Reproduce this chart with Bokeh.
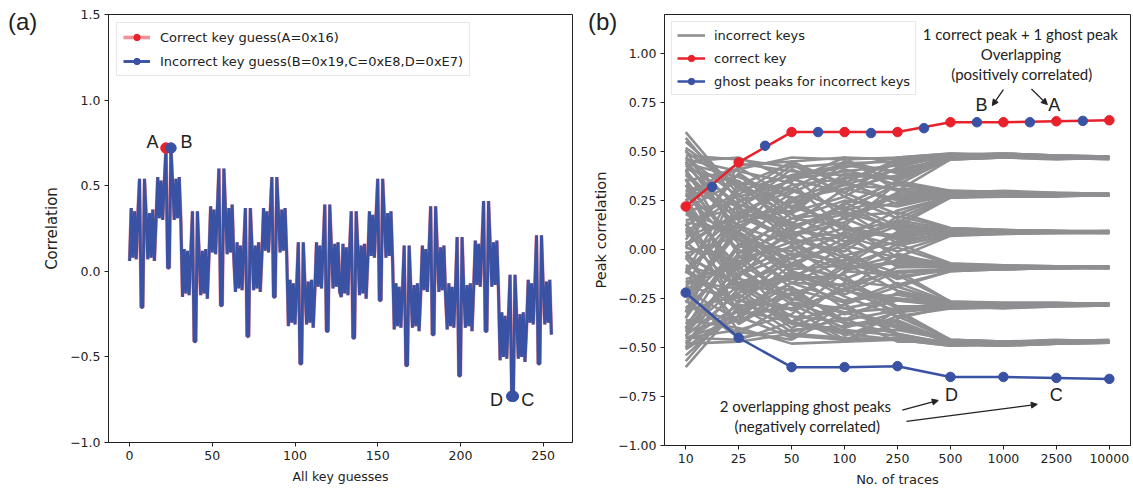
from bokeh.plotting import figure
from bokeh.models import FixedTicker, Legend, LegendItem, Label, Arrow, NormalHead, GridBox, Div
from bokeh.embed import file_html
from bokeh.resources import INLINE

# ---------------- panel (a) data ----------------
key_guesses = list(range(256))
correlation = [
    0.06, 0.37, 0.08, 0.35, 0.07, 0.33, 0.54, -0.21, -0.21, 0.54, 0.33, 0.07, 0.34, 0.08, 0.36, 0.06,
    0.30, 0.55, 0.31, 0.53, 0.30, 0.52, 0.72, 0.02, 0.02, 0.72, 0.52, 0.30, 0.54, 0.31, 0.55, 0.29,
    -0.15, 0.13, -0.13, 0.12, -0.14, 0.11, 0.35, -0.41, -0.41, 0.35, 0.11, -0.14, 0.12, -0.13, 0.13, -0.16,
    0.09, 0.38, 0.11, 0.36, 0.10, 0.35, 0.60, -0.20, -0.20, 0.60, 0.35, 0.10, 0.37, 0.11, 0.39, 0.08,
    -0.12, 0.17, -0.10, 0.15, -0.11, 0.14, 0.37, -0.38, -0.38, 0.37, 0.14, -0.11, 0.15, -0.10, 0.17, -0.12,
    0.10, 0.37, 0.12, 0.35, 0.11, 0.34, 0.55, -0.15, -0.15, 0.55, 0.34, 0.11, 0.36, 0.12, 0.37, 0.09,
    -0.32, -0.05, -0.30, -0.07, -0.31, -0.08, 0.17, -0.54, -0.54, 0.17, -0.08, -0.31, -0.06, -0.30, -0.05, -0.33,
    -0.11, 0.17, -0.09, 0.15, -0.10, 0.14, 0.39, -0.35, -0.35, 0.39, 0.14, -0.10, 0.16, -0.09, 0.17, -0.12,
    -0.15, 0.16, -0.13, 0.14, -0.14, 0.13, 0.35, -0.39, -0.39, 0.35, 0.13, -0.14, 0.15, -0.13, 0.16, -0.16,
    0.07, 0.35, 0.09, 0.33, 0.08, 0.32, 0.54, -0.17, -0.17, 0.54, 0.32, 0.08, 0.34, 0.09, 0.35, 0.06,
    -0.34, -0.07, -0.32, -0.09, -0.33, -0.10, 0.15, -0.55, -0.55, 0.15, -0.10, -0.33, -0.08, -0.32, -0.07, -0.35,
    -0.13, 0.15, -0.11, 0.13, -0.12, 0.12, 0.38, -0.37, -0.37, 0.38, 0.12, -0.12, 0.14, -0.11, 0.15, -0.14,
    -0.34, -0.07, -0.32, -0.09, -0.33, -0.10, 0.20, -0.61, -0.61, 0.20, -0.10, -0.33, -0.08, -0.32, -0.07, -0.35,
    -0.10, 0.18, -0.08, 0.16, -0.09, 0.15, 0.41, -0.35, -0.35, 0.41, 0.15, -0.09, 0.17, -0.08, 0.18, -0.11,
    -0.52, -0.24, -0.50, -0.26, -0.51, -0.27, -0.02, -0.73, -0.73, -0.02, -0.27, -0.51, -0.25, -0.50, -0.24, -0.53,
    -0.32, -0.05, -0.30, -0.07, -0.31, -0.08, 0.21, -0.54, -0.54, 0.21, -0.08, -0.31, -0.06, -0.30, -0.05, -0.37,
]
correct_key = 0x16
ghost_keys = [0x19, 0xE7, 0xE8]
a_yticks = [-1.0, -0.5, 0.0, 0.5, 1.0, 1.5]
a_yticklabels = ["\u22121.0", "\u22120.5", "0.0", "0.5", "1.0", "1.5"]
a_xticks = [0, 50, 100, 150, 200, 250]

# ---------------- panel (b) data ----------------
trace_labels = ["10", "25", "50", "100", "250", "500", "1000", "2500", "10000"]
correct_peak = [0.22, 0.445, 0.60, 0.60, 0.60, 0.65, 0.65, 0.655, 0.66]
ghost_pos_peak = [0.32, 0.53, 0.60, 0.595, 0.62, 0.65, 0.65, 0.657]
ghost_neg_peak = [-0.22, -0.45, -0.60, -0.60, -0.595, -0.65, -0.65, -0.655, -0.66]
incorrect_peaks = [
    [0.60, 0.28, 0.45, 0.47, 0.46, 0.48, 0.49, 0.48, 0.475],
    [0.48, 0.46, 0.42, 0.44, 0.45, 0.47, 0.48, 0.47, 0.47],
    [0.35, 0.41, 0.47, 0.46, 0.47, 0.49, 0.48, 0.47, 0.465],
    [0.12, 0.30, 0.38, 0.43, 0.40, 0.46, 0.47, 0.46, 0.47],
    [-0.05, 0.18, 0.33, 0.36, 0.44, 0.48, 0.475, 0.465, 0.47],
    [0.44, 0.37, 0.26, 0.31, 0.38, 0.465, 0.47, 0.47, 0.46],
    [0.27, 0.44, 0.40, 0.38, 0.36, 0.475, 0.485, 0.475, 0.47],
    [-0.22, 0.10, 0.29, 0.41, 0.33, 0.47, 0.48, 0.47, 0.475],
    [0.52, 0.33, 0.44, 0.27, 0.42, 0.485, 0.49, 0.48, 0.475],
    [0.05, 0.39, 0.21, 0.45, 0.35, 0.46, 0.47, 0.465, 0.465],
    [0.45, 0.47, 0.36, 0.40, 0.43, 0.475, 0.48, 0.47, 0.47],
    [0.20, 0.24, 0.43, 0.34, 0.46, 0.47, 0.475, 0.47, 0.47],
    [-0.12, 0.34, 0.31, 0.45, 0.39, 0.48, 0.485, 0.475, 0.47],
    [0.39, 0.15, 0.37, 0.42, 0.47, 0.49, 0.485, 0.48, 0.475],
    [0.01, 0.43, 0.45, 0.33, 0.41, 0.465, 0.475, 0.47, 0.47],
    [0.30, 0.38, 0.18, 0.39, 0.37, 0.47, 0.48, 0.47, 0.465],
    [-0.32, 0.21, 0.41, 0.29, 0.45, 0.48, 0.49, 0.48, 0.47],
    [0.47, 0.27, 0.35, 0.47, 0.30, 0.46, 0.47, 0.465, 0.465],
    [0.57, 0.25, 0.31, 0.20, 0.27, 0.29, 0.28, 0.28, 0.28],
    [0.41, 0.35, 0.16, 0.25, 0.22, 0.28, 0.29, 0.285, 0.28],
    [0.18, 0.05, 0.24, 0.33, 0.31, 0.30, 0.295, 0.285, 0.285],
    [-0.30, -0.04, 0.12, 0.18, 0.24, 0.27, 0.28, 0.275, 0.275],
    [0.30, 0.22, 0.36, 0.29, 0.18, 0.275, 0.285, 0.28, 0.28],
    [0.09, 0.28, 0.07, 0.14, 0.28, 0.29, 0.30, 0.29, 0.285],
    [-0.12, 0.14, 0.20, 0.37, 0.30, 0.285, 0.275, 0.275, 0.275],
    [0.46, 0.40, 0.34, 0.10, 0.14, 0.265, 0.27, 0.27, 0.28],
    [0.23, -0.10, 0.10, 0.23, 0.35, 0.30, 0.29, 0.28, 0.28],
    [-0.40, 0.02, 0.27, 0.06, 0.20, 0.27, 0.28, 0.28, 0.275],
    [0.50, 0.32, 0.22, 0.34, 0.25, 0.28, 0.285, 0.28, 0.28],
    [0.02, 0.19, 0.30, 0.21, 0.33, 0.295, 0.29, 0.285, 0.28],
    [0.36, -0.02, 0.19, 0.27, 0.16, 0.27, 0.275, 0.275, 0.28],
    [-0.20, 0.33, 0.13, 0.31, 0.26, 0.285, 0.29, 0.285, 0.285],
    [0.14, 0.09, 0.38, 0.16, 0.29, 0.30, 0.295, 0.29, 0.285],
    [0.43, 0.17, 0.05, 0.24, 0.12, 0.265, 0.275, 0.275, 0.275],
    [-0.44, -0.07, 0.16, 0.12, 0.34, 0.29, 0.285, 0.28, 0.28],
    [0.25, 0.42, 0.26, 0.35, 0.23, 0.275, 0.28, 0.28, 0.275],
    [0.38, 0.12, 0.03, 0.11, 0.07, 0.09, 0.10, 0.095, 0.09],
    [0.15, 0.21, 0.13, 0.02, 0.12, 0.10, 0.09, 0.09, 0.095],
    [-0.18, -0.08, 0.08, 0.16, 0.05, 0.08, 0.085, 0.09, 0.09],
    [0.55, 0.31, 0.18, 0.04, 0.15, 0.105, 0.10, 0.095, 0.09],
    [-0.02, 0.07, -0.05, 0.09, 0.02, 0.075, 0.08, 0.085, 0.085],
    [0.26, -0.14, 0.11, 0.22, 0.10, 0.09, 0.095, 0.09, 0.09],
    [-0.48, -0.20, -0.02, -0.06, 0.09, 0.085, 0.09, 0.085, 0.085],
    [0.07, 0.16, 0.22, 0.13, -0.04, 0.07, 0.08, 0.085, 0.09],
    [0.33, 0.03, -0.09, 0.06, 0.13, 0.10, 0.095, 0.095, 0.095],
    [-0.35, 0.26, 0.05, -0.01, 0.17, 0.11, 0.10, 0.09, 0.09],
    [0.44, 0.23, 0.14, -0.03, 0.04, 0.085, 0.09, 0.09, 0.09],
    [-0.27, 0.01, 0.16, 0.19, 0.11, 0.10, 0.095, 0.09, 0.09],
    [0.11, -0.17, -0.07, 0.03, 0.14, 0.09, 0.09, 0.09, 0.095],
    [0.21, 0.35, 0.09, 0.07, -0.01, 0.075, 0.085, 0.085, 0.085],
    [-0.10, 0.12, 0.25, 0.10, 0.06, 0.095, 0.10, 0.095, 0.09],
    [0.51, 0.05, -0.01, 0.17, 0.19, 0.11, 0.10, 0.095, 0.095],
    [-0.41, -0.12, 0.02, -0.08, 0.08, 0.08, 0.085, 0.09, 0.085],
    [0.03, 0.19, 0.12, 0.20, 0.03, 0.09, 0.09, 0.09, 0.09],
    [-0.38, -0.13, -0.02, -0.10, -0.06, -0.09, -0.10, -0.095, -0.09],
    [-0.16, -0.20, -0.14, -0.03, -0.12, -0.10, -0.09, -0.09, -0.095],
    [0.19, 0.09, -0.07, -0.15, -0.05, -0.08, -0.085, -0.09, -0.09],
    [-0.54, -0.30, -0.17, -0.05, -0.14, -0.105, -0.10, -0.095, -0.09],
    [0.01, -0.06, 0.04, -0.10, -0.03, -0.075, -0.08, -0.085, -0.085],
    [-0.27, 0.13, -0.12, -0.21, -0.09, -0.09, -0.095, -0.09, -0.09],
    [0.47, 0.21, 0.03, 0.07, -0.08, -0.085, -0.09, -0.085, -0.085],
    [-0.08, -0.17, -0.23, -0.12, 0.03, -0.07, -0.08, -0.085, -0.09],
    [-0.32, -0.02, 0.10, -0.07, -0.14, -0.10, -0.095, -0.095, -0.095],
    [0.36, -0.25, -0.04, 0.01, -0.18, -0.11, -0.10, -0.09, -0.09],
    [-0.44, -0.22, -0.15, 0.02, -0.04, -0.085, -0.09, -0.09, -0.09],
    [0.28, 0.00, -0.17, -0.18, -0.11, -0.10, -0.095, -0.09, -0.09],
    [-0.12, 0.18, 0.06, -0.04, -0.15, -0.09, -0.09, -0.09, -0.095],
    [-0.21, -0.36, -0.10, -0.08, 0.01, -0.075, -0.085, -0.085, -0.085],
    [0.09, -0.11, -0.26, -0.09, -0.07, -0.095, -0.10, -0.095, -0.09],
    [-0.50, -0.04, 0.01, -0.16, -0.19, -0.11, -0.10, -0.095, -0.095],
    [0.40, 0.11, -0.03, 0.08, -0.09, -0.08, -0.085, -0.09, -0.085],
    [-0.03, -0.19, -0.13, -0.21, -0.02, -0.09, -0.09, -0.09, -0.09],
    [-0.57, -0.26, -0.30, -0.21, -0.26, -0.29, -0.28, -0.28, -0.28],
    [-0.42, -0.34, -0.17, -0.26, -0.23, -0.28, -0.29, -0.285, -0.28],
    [-0.17, -0.06, -0.25, -0.32, -0.30, -0.30, -0.295, -0.285, -0.285],
    [0.29, 0.05, -0.11, -0.19, -0.25, -0.27, -0.28, -0.275, -0.275],
    [-0.31, -0.23, -0.37, -0.28, -0.19, -0.275, -0.285, -0.28, -0.28],
    [-0.10, -0.27, -0.08, -0.15, -0.29, -0.29, -0.30, -0.29, -0.285],
    [0.13, -0.15, -0.21, -0.36, -0.31, -0.285, -0.275, -0.275, -0.275],
    [-0.45, -0.41, -0.33, -0.11, -0.13, -0.265, -0.27, -0.27, -0.28],
    [-0.24, 0.09, -0.11, -0.24, -0.34, -0.30, -0.29, -0.28, -0.28],
    [0.41, -0.03, -0.26, -0.07, -0.21, -0.27, -0.28, -0.28, -0.275],
    [-0.50, -0.31, -0.23, -0.33, -0.26, -0.28, -0.285, -0.28, -0.28],
    [-0.03, -0.18, -0.31, -0.20, -0.32, -0.295, -0.29, -0.285, -0.28],
    [-0.35, 0.03, -0.20, -0.27, -0.17, -0.27, -0.275, -0.275, -0.28],
    [0.21, -0.33, -0.12, -0.30, -0.25, -0.285, -0.29, -0.285, -0.285],
    [-0.15, -0.08, -0.37, -0.17, -0.30, -0.30, -0.295, -0.29, -0.285],
    [-0.42, -0.18, -0.04, -0.23, -0.11, -0.265, -0.275, -0.275, -0.275],
    [0.45, 0.08, -0.15, -0.13, -0.35, -0.29, -0.285, -0.28, -0.28],
    [-0.26, -0.43, -0.27, -0.36, -0.22, -0.275, -0.28, -0.28, -0.275],
    [-0.60, -0.29, -0.44, -0.46, -0.45, -0.48, -0.49, -0.48, -0.475],
    [-0.48, -0.47, -0.43, -0.45, -0.46, -0.47, -0.48, -0.47, -0.47],
    [-0.36, -0.40, -0.48, -0.47, -0.46, -0.49, -0.48, -0.47, -0.465],
    [-0.11, -0.31, -0.37, -0.42, -0.41, -0.46, -0.47, -0.46, -0.47],
    [0.04, -0.19, -0.34, -0.37, -0.43, -0.48, -0.475, -0.465, -0.47],
    [-0.45, -0.36, -0.27, -0.30, -0.39, -0.465, -0.47, -0.47, -0.46],
    [-0.26, -0.45, -0.41, -0.39, -0.37, -0.475, -0.485, -0.475, -0.47],
    [0.21, -0.09, -0.28, -0.40, -0.32, -0.47, -0.48, -0.47, -0.475],
    [-0.51, -0.34, -0.45, -0.28, -0.43, -0.485, -0.49, -0.48, -0.475],
    [-0.04, -0.38, -0.22, -0.44, -0.34, -0.46, -0.47, -0.465, -0.465],
    [-0.45, -0.46, -0.37, -0.41, -0.44, -0.475, -0.48, -0.47, -0.47],
    [-0.19, -0.25, -0.42, -0.35, -0.47, -0.47, -0.475, -0.47, -0.47],
    [0.13, -0.33, -0.30, -0.46, -0.38, -0.48, -0.485, -0.475, -0.47],
    [-0.40, -0.14, -0.38, -0.43, -0.46, -0.49, -0.485, -0.48, -0.475],
    [-0.01, -0.42, -0.46, -0.32, -0.40, -0.465, -0.475, -0.47, -0.47],
    [-0.29, -0.37, -0.19, -0.38, -0.36, -0.47, -0.48, -0.47, -0.465],
    [0.33, -0.20, -0.40, -0.28, -0.44, -0.48, -0.49, -0.48, -0.47],
    [-0.47, -0.28, -0.34, -0.47, -0.31, -0.46, -0.47, -0.465, -0.465],
]
b_yticks = [-1.0, -0.75, -0.5, -0.25, 0.0, 0.25, 0.5, 0.75, 1.0]
b_yticklabels = ["\u22121.00", "\u22120.75", "\u22120.50", "\u22120.25", "0.00", "0.25", "0.50", "0.75", "1.00"]

RED = "#e8212b"
BLUE = "#3a52a3"
GRAY = "#8f8f92"
INK = "#222222"
TICK_FONT = "DejaVu Sans"


def style_axes(p):
    p.xgrid.visible = False
    p.ygrid.visible = False
    p.outline_line_color = INK
    p.outline_line_width = 1
    for ax in (p.xaxis[0], p.yaxis[0]):
        ax.axis_line_color = INK
        ax.major_tick_line_color = INK
        ax.minor_tick_line_color = None
        ax.major_tick_in = 0
        ax.major_tick_out = 4
        ax.major_label_text_font = TICK_FONT
        ax.major_label_text_font_size = "12.5px"
        ax.major_label_text_color = INK
        ax.major_label_standoff = 4
        ax.axis_label_text_font = TICK_FONT
        ax.axis_label_text_font_style = "normal"
        ax.axis_label_text_color = INK
        ax.axis_label_standoff = 6


# ================= panel (a) =================
p1 = figure(frame_width=464, frame_height=428, x_range=(-12.75, 267.75), y_range=(-1.0, 1.5),
            output_backend="svg", toolbar_location=None,
            min_border_left=108, min_border_right=10, min_border_top=14, min_border_bottom=50)
style_axes(p1)
p1.xaxis.ticker = FixedTicker(ticks=a_xticks)
p1.yaxis.ticker = FixedTicker(ticks=a_yticks)
p1.yaxis.major_label_overrides = {t: s for t, s in zip(a_yticks, a_yticklabels)}
p1.xaxis.axis_label = "All key guesses"
p1.xaxis.axis_label_text_font_size = "12.5px"
p1.yaxis.axis_label = "Correlation"
p1.yaxis.axis_label_text_font_size = "15px"

red_line_a = p1.line(key_guesses, correlation, line_color=RED, line_width=3.6, line_alpha=0.5)
blue_line_a = p1.line(key_guesses, correlation, line_color=BLUE, line_width=2.9)
red_pt_a = p1.scatter([correct_key], [correlation[correct_key]], size=10.5, color=RED)
blue_pt_a = p1.scatter(ghost_keys, [correlation[k] for k in ghost_keys], size=10.5, color=BLUE)

leg_a = Legend(items=[
    LegendItem(label="Correct key guess(A=0x16)", renderers=[red_line_a, red_pt_a]),
    LegendItem(label="Incorrect key guess(B=0x19,C=0xE8,D=0xE7)", renderers=[blue_line_a, blue_pt_a]),
], location="top_left", margin=8, padding=6, spacing=8, label_height=16, glyph_height=16,
    glyph_width=27, label_standoff=10, label_text_font=TICK_FONT, label_text_font_size="13px",
    label_text_color=INK, border_line_color="#cfcfcf", background_fill_alpha=0.85)
p1.add_layout(leg_a)

for txt, x, y, al in [("A", 17.5, 0.755, "right"), ("B", 30.8, 0.755, "left"),
                      ("D", 225.8, -0.75, "right"), ("C", 236.7, -0.75, "left")]:
    p1.add_layout(Label(x=x, y=y, text=txt, text_align=al, text_baseline="middle",
                        text_font="Liberation Sans", text_font_size="18px", text_color=INK))

# ================= panel (b) =================
p2 = figure(frame_width=466, frame_height=431, x_range=(-0.4, 8.4), y_range=(-1.0, 1.2),
            output_backend="svg", toolbar_location=None,
            min_border_left=82, min_border_right=1, min_border_top=10, min_border_bottom=51)
style_axes(p2)
pos = list(range(len(trace_labels)))
half_pos = [i + 0.5 for i in range(len(ghost_pos_peak))]
p2.xaxis.ticker = FixedTicker(ticks=pos)
p2.xaxis.major_label_overrides = {i: s for i, s in zip(pos, trace_labels)}
p2.yaxis.ticker = FixedTicker(ticks=b_yticks)
p2.yaxis.major_label_overrides = {t: s for t, s in zip(b_yticks, b_yticklabels)}
p2.xaxis.axis_label = "No. of traces"
p2.xaxis.axis_label_text_font_size = "13px"
p2.yaxis.axis_label = "Peak correlation"
p2.yaxis.axis_label_text_font_size = "14.5px"

gray = p2.multi_line([pos] * len(incorrect_peaks), incorrect_peaks, line_color=GRAY, line_width=2.6)
red_line_b = p2.line(pos, correct_peak, line_color=RED, line_width=2.5)
red_pt_b = p2.scatter(pos, correct_peak, size=9.5, color=RED)
blue_line_b = p2.line(pos, ghost_neg_peak, line_color=BLUE, line_width=2.5)
blue_pt_b = p2.scatter(pos, ghost_neg_peak, size=9.5, color=BLUE)
p2.scatter(half_pos, ghost_pos_peak, size=9.5, color=BLUE)

leg_b = Legend(items=[
    LegendItem(label="incorrect keys", renderers=[gray]),
    LegendItem(label="correct key", renderers=[red_line_b, red_pt_b]),
    LegendItem(label="ghost peaks for incorrect keys", renderers=[blue_line_b, blue_pt_b]),
], location="top_left", margin=7, padding=5, spacing=7, label_height=16, glyph_height=16,
    glyph_width=28, label_standoff=9, label_text_font=TICK_FONT, label_text_font_size="13px",
    label_text_color=INK, border_line_color="#cfcfcf", background_fill_alpha=0.85)
p2.add_layout(leg_b)

ANN_FONT = "Lato"
for txt, x, y in [("1 correct peak + 1 ghost peak", 6.32, 1.10),
                  ("Overlapping", 6.33, 0.998),
                  ("(positively correlated)", 6.35, 0.896),
                  ("2 overlapping ghost peaks", 2.26, -0.796),
                  ("(negatively correlated)", 2.30, -0.898)]:
    p2.add_layout(Label(x=x, y=y, text=txt, text_align="center", text_baseline="middle",
                        text_font=ANN_FONT, text_font_size="15px", text_color=INK))
for txt, x, y in [("B", 5.585, 0.74), ("A", 6.96, 0.74), ("D", 5.02, -0.74), ("C", 7.0, -0.74)]:
    p2.add_layout(Label(x=x, y=y, text=txt, text_align="center", text_baseline="middle",
                        text_font="Liberation Sans", text_font_size="18px", text_color=INK))
for xs, ys, xe, ye in [(6.0, 0.816, 5.79, 0.735), (6.53, 0.82, 6.83, 0.74),
                       (4.09, -0.82, 4.77, -0.77), (4.17, -0.877, 6.64, -0.79)]:
    p2.add_layout(Arrow(end=NormalHead(size=6, fill_color=INK, line_color=INK),
                        x_start=xs, y_start=ys, x_end=xe, y_end=ye, line_color=INK, line_width=1.3))

# panel letters, overlaid on the top-left corner of each panel's cell
letter_style = {"font-family": "Liberation Sans", "font-size": "24px", "color": INK, "line-height": "1"}
div_a = Div(text="(a)", width=40, height=30, margin=(10, 0, 0, 8), styles=letter_style)
div_b = Div(text="(b)", width=40, height=30, margin=(10, 0, 0, 6), styles=letter_style)

layout = GridBox(children=[(p1, 0, 0), (p2, 0, 1), (div_a, 0, 0), (div_b, 0, 1)], spacing=0)
open("out.html", "w").write(file_html(layout, INLINE))
